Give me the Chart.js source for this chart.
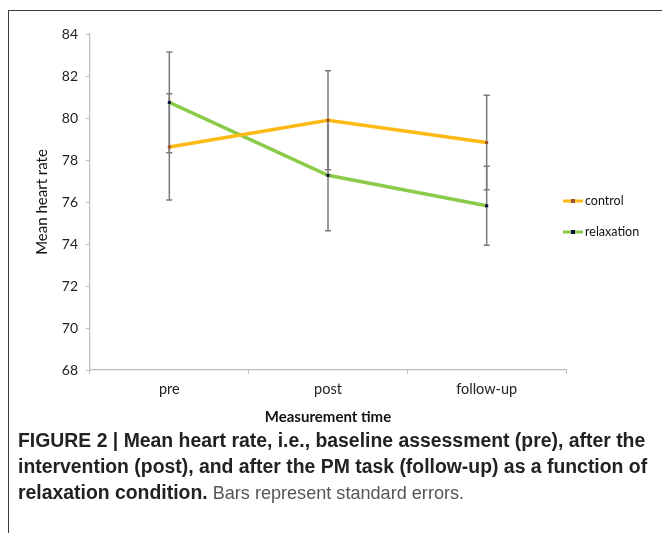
<!DOCTYPE html>
<html>
<head>
<meta charset="utf-8">
<script src="https://cdn.jsdelivr.net/npm/chart.js@4.4.1/dist/chart.umd.min.js"></script>
<style>
  html, body { margin: 0; padding: 0; background: #fff; width: 662px; height: 533px; overflow: hidden; }
  #frame { position: absolute; left: 8px; top: 10px; width: 700px; height: 600px;
           border-top: 1.5px solid #3a3a3a; border-left: 1.5px solid #3a3a3a; }
  #chart { position: absolute; left: 0; top: 0; }
  #caption { position: absolute; left: 18px; top: 427px; font-family: "Liberation Sans", Arial, sans-serif;
             font-size: 19.4px; line-height: 26px; color: #555; white-space: nowrap; }
  #caption b { font-weight: bold; color: #222; }
  #caption span { font-size: 18.1px; }
</style>
</head>
<body>
<div id="frame"></div>
<canvas id="chart" width="662" height="440"></canvas>
<div id="caption"><b>FIGURE 2 | Mean heart rate, i.e., baseline assessment (pre), after the<br>intervention (post), and after the PM task (follow-up) as a function of<br>relaxation condition.</b><span> Bars represent standard errors.</span></div>
<script>
const categories = ['pre', 'post', 'follow-up'];
const controlMeans = [78.62, 79.89, 78.83];
const controlErrors = [2.53, 2.36, 2.25];
const relaxationMeans = [80.74, 77.27, 75.82];
const relaxationErrors = [2.40, 2.64, 1.88];
const yTickValues = [68, 70, 72, 74, 76, 78, 80, 82, 84];
const seriesNames = ['control', 'relaxation'];

const chartFont = 'Lato, "Open Sans", sans-serif';

const errorBars = {
  id: 'errorBars',
  beforeDatasetsDraw(chart) {
    const ctx = chart.ctx;
    const y = chart.scales.y;
    ctx.save();
    ctx.strokeStyle = '#7a7a7a';
    ctx.lineWidth = 1.5;
    chart.data.datasets.forEach((ds, i) => {
      const meta = chart.getDatasetMeta(i);
      meta.data.forEach((pt, j) => {
        const v = ds.data[j], e = ds.errors[j];
        const x = pt.x;
        const top = y.getPixelForValue(v + e), bot = y.getPixelForValue(v - e);
        ctx.beginPath();
        ctx.moveTo(x, top); ctx.lineTo(x, bot);
        ctx.moveTo(x - 3, top); ctx.lineTo(x + 3, top);
        ctx.moveTo(x - 3, bot); ctx.lineTo(x + 3, bot);
        ctx.stroke();
      });
    });
    ctx.restore();
  }
};

const sideLegend = {
  id: 'sideLegend',
  afterDraw(chart) {
    const ctx = chart.ctx;
    const a = chart.chartArea;
    ctx.save();
    chart.data.datasets.forEach((ds, i) => {
      const yy = a.top + 167 + i * 31;
      const x0 = a.right - 3;
      ctx.strokeStyle = ds.borderColor;
      ctx.lineWidth = 3;
      ctx.beginPath(); ctx.moveTo(x0, yy); ctx.lineTo(x0 + 20, yy); ctx.stroke();
      ctx.fillStyle = ds.pointBackgroundColor;
      ctx.fillRect(x0 + 8, yy - 2, 4, 4);
      ctx.fillStyle = '#111';
      ctx.font = '12.5px ' + chartFont;
      ctx.textBaseline = 'middle';
      ctx.textAlign = 'left';
      ctx.fillText(ds.label, x0 + 22, yy);
    });
    ctx.restore();
  }
};

new Chart(document.getElementById('chart'), {
  type: 'line',
  data: {
    labels: categories,
    datasets: [
      { label: seriesNames[0], data: controlMeans, errors: controlErrors,
        borderColor: '#FDB913', borderWidth: 3.5, pointStyle: 'rect', pointRadius: 2.2,
        pointBackgroundColor: '#A0522D', pointBorderColor: '#A0522D', pointBorderWidth: 0, tension: 0 },
      { label: seriesNames[1], data: relaxationMeans, errors: relaxationErrors,
        borderColor: '#8CCB4A', borderWidth: 3.5, pointStyle: 'rect', pointRadius: 2.2,
        pointBackgroundColor: '#101040', pointBorderColor: '#101040', pointBorderWidth: 0, tension: 0 }
    ]
  },
  options: {
    responsive: false,
    animation: false,
    layout: { padding: { left: 30, right: 96, top: 34, bottom: 10 } },
    plugins: { legend: { display: false }, tooltip: { enabled: false } },
    scales: {
      x: {
        type: 'category',
        offset: true,
        grid: { drawOnChartArea: false, offset: true, tickLength: 4, color: '#bdbdbd', lineWidth: 1 },
        border: { color: '#bdbdbd', width: 1.2 },
        ticks: { color: '#222', font: { family: chartFont, size: 14.5 }, padding: 7, maxRotation: 0 },
        title: { display: true, text: 'Measurement time', color: '#111',
                 font: { family: chartFont, size: 15, weight: 'bold' }, padding: { top: 0, bottom: 4 } },
        afterFit(s) { s.height = 60; }
      },
      y: {
        min: 68, max: 84,
        afterBuildTicks(s) { s.ticks = yTickValues.map(v => ({ value: v })); },
        grid: { drawOnChartArea: false, tickLength: 4, color: '#bdbdbd', lineWidth: 1 },
        border: { color: '#bdbdbd', width: 1.2 },
        ticks: { color: '#222', font: { family: chartFont, size: 14 }, padding: 8 },
        title: { display: true, text: 'Mean heart rate', color: '#111',
                 font: { family: chartFont, size: 15 }, padding: { top: 3, bottom: 0 } },
        afterFit(s) { s.width = 60; }
      }
    }
  },
  plugins: [errorBars, sideLegend]
});
</script>
</body>
</html>
